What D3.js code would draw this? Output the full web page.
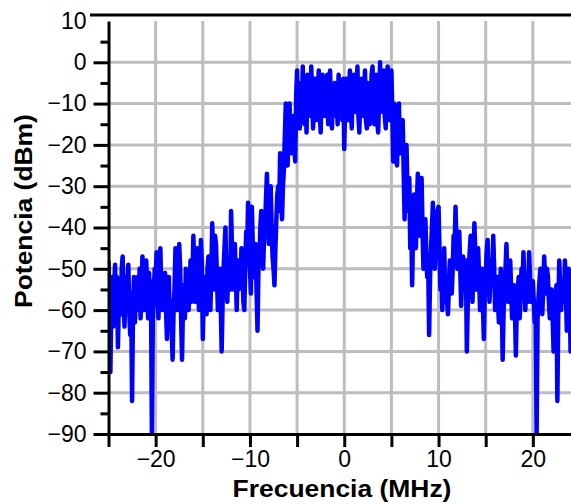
<!DOCTYPE html>
<html>
<head>
<meta charset="utf-8">
<script src="https://cdn.jsdelivr.net/npm/d3@7"></script>
<style>
  body { margin: 0; background: #fff; }
  svg { display: block; font-family: Arial, "Liberation Sans", sans-serif; }
</style>
</head>
<body>
<div id="grafico"></div>
<script>
// datos: espectro medido, una muestra cada 0.1 MHz desde -25 MHz
var f_inicio = -25, f_paso = 0.1
var potencia = [
  -48, -60, -75, -58, -52, -64, -55, -49, -62, -52,   // -25
  -69, -58, -54, -61, -50, -47, -58, -64, -52, -60,   // -24
  -54, -49, -60, -66, -56, -82, -60, -52, -63, -57,   // -23
  -60, -52, -58, -50, -62, -55, -47, -53, -60, -56,   // -22
  -48, -55, -62, -51, -58, -53, -90, -62, -56, -50,   // -21
  -52, -46, -57, -62, -50, -45, -55, -60, -53, -58,   // -20
  -51, -60, -67, -56, -52, -62, -58, -65, -72, -60,   // -19
  -55, -45, -52, -60, -57, -44, -50, -62, -72, -58,   // -18
  -54, -62, -50, -57, -53, -60, -55, -48, -58, -52,   // -17
  -42, -50, -58, -47, -45, -55, -60, -52, -43, -49,   // -16
  -67, -56, -52, -58, -61, -50, -47, -55, -60, -52,   // -15
  -39, -48, -55, -42, -44, -52, -60, -55, -50, -58,   // -14
  -70, -58, -50, -45, -40, -52, -58, -50, -47, -55,   // -13
  -36, -45, -55, -50, -44, -52, -60, -48, -55, -50,   // -12
  -53, -45, -48, -58, -60, -50, -41, -46, -34, -42,   // -11
  -50, -56, -35, -44, -52, -47, -44, -55, -65, -50,   // -10
  -48, -40, -36, -45, -50, -42, -40, -33, -27, -38,   // -9
  -44, -35, -30, -40, -47, -50, -54, -45, -38, -32,   // -8
  -30, -36, -22, -28, -38, -30, -26, -18, -10, -20,   // -7
  -25, -15, -10, -18, -22, -14, -13, -20, -24, -8,    // -6
  -2, -14, -5, -16, -8, -14, -1, -10, -15, -6,        // -5
  -17, -3, -12, -8, -13, -1, -9, -16, -4, -11,        // -4
  -4, -14, -7, -2, -12, -17, -6, -3, -13, -9,         // -3
  -13, -5, -3, -15, -8, -2, -12, -16, -6, -11,        // -2
  -5, -13, -9, -15, -3, -10, -12, -6, -14, -4,        // -1
  -21, -10, -4, -13, -14, -7, -2, -12, -16, -5,       // 0
  -3, -11, -12, -6, -1, -13, -17, -8, -4, -12,        // 1
  -13, -7, -2, -14, -16, -5, -9, -15, -11, -3,        // 2
  -1, -12, -15, -6, -3, -14, -17, -9, 0, -10,         // 3
  -12, -4, -2, -13, -16, -8, -1, -11, -14, -5,        // 4
  -2, -12, -24, -10, -12, -18, -25, -13, -10, -20,    // 5
  -22, -15, -14, -26, -38, -24, -20, -30, -36, -28,   // 6
  -45, -38, -54, -40, -32, -38, -45, -35, -27, -36,   // 7
  -42, -34, -28, -40, -50, -44, -38, -46, -52, -48,   // 8
  -66, -52, -45, -40, -34, -42, -50, -45, -40, -36,   // 9
  -35, -45, -55, -50, -60, -52, -45, -55, -52, -58,   // 10
  -61, -54, -48, -52, -56, -50, -42, -46, -35, -44,   // 11
  -50, -45, -41, -50, -59, -52, -47, -53, -55, -48,   // 12
  -70, -58, -50, -46, -42, -52, -58, -48, -39, -46,   // 13
  -55, -50, -45, -52, -60, -55, -50, -58, -67, -56,   // 14
  -52, -46, -43, -50, -58, -52, -48, -54, -42, -50,   // 15
  -60, -54, -52, -58, -63, -55, -50, -57, -72, -60,   // 16
  -56, -50, -44, -52, -58, -54, -48, -55, -62, -57,   // 17
  -54, -60, -71, -58, -55, -52, -62, -57, -50, -55,   // 18
  -46, -53, -60, -55, -52, -58, -46, -52, -58, -54,   // 19
  -53, -58, -63, -60, -90, -62, -57, -53, -50, -56,   // 20
  -61, -55, -47, -52, -56, -50, -52, -58, -62, -55,   // 21
  -55, -62, -70, -58, -60, -54, -82, -60, -48, -54,   // 22
  -60, -56, -53, -58, -48, -55, -65, -58, -50, -55,   // 23
  -70, -62, -55, -58, -62, -55, -50, -57, -58, -62,   // 24
  -60                                                 // 25
]
var x_ticks = [-20, -10, 0, 10, 20]
var y_ticks = [10, 0, -10, -20, -30, -40, -50, -60, -70, -80, -90]

var ancho = 571, alto = 504
var gris = '#bdbdbd'

var svg = d3.select('#grafico')
    .append('svg')
    .attr('width', ancho)
    .attr('height', alto)

var x = d3.scaleLinear().domain([-25, 25]).range([108.5, 580])
var y = d3.scaleLinear().domain([-90, 10]).range([434, 21])

var datos = potencia.map((p, i) => ({ f: f_inicio + i * f_paso, p: p }))

// rejilla
svg.append('g')
    .selectAll('line')
    .data(d3.range(-20, 26, 5))
    .enter()
    .append('line')
    .attr('x1', d => x(d)).attr('x2', d => x(d))
    .attr('y1', y(10)).attr('y2', y(-90))
    .attr('stroke', gris).attr('stroke-width', 3)

svg.append('g')
    .selectAll('line')
    .data(d3.range(-80, 1, 10))
    .enter()
    .append('line')
    .attr('x1', x(-25)).attr('x2', ancho)
    .attr('y1', d => y(d)).attr('y2', d => y(d))
    .attr('stroke', gris).attr('stroke-width', 3)

// traza
svg.append('clipPath').attr('id', 'recorte')
    .append('rect')
    .attr('x', x(-25)).attr('y', y(10))
    .attr('width', ancho - x(-25)).attr('height', y(-90) - y(10))

svg.append('path')
    .datum(datos)
    .attr('clip-path', 'url(#recorte)')
    .attr('fill', 'none')
    .attr('stroke', '#0000ff')
    .attr('stroke-width', 4.5)
    .attr('stroke-linejoin', 'round')
    .attr('d', d3.line().x(d => x(d.f)).y(d => y(d.p)))

// linea superior
svg.append('line')
    .attr('x1', 90).attr('x2', ancho)
    .attr('y1', 15).attr('y2', 15)
    .attr('stroke', '#000').attr('stroke-width', 3)

// ejes
var eje_y_menor = svg.append('g')
    .attr('transform', `translate(${x(-25)},0)`)
    .call(d3.axisLeft(y).tickValues(d3.range(-85, 6, 10)).tickSize(8).tickFormat(''))

var eje_y = svg.append('g')
    .attr('transform', `translate(${x(-25)},0)`)
    .call(d3.axisLeft(y).tickValues(y_ticks).tickSize(15).tickSizeOuter(0).tickPadding(7))
eje_y.selectAll('.tick').filter(d => d == 10).select('line').remove()

var eje_x = svg.append('g')
    .attr('transform', `translate(0,${y(-90)})`)
    .call(d3.axisBottom(x).tickValues(x_ticks).tickSize(13).tickSizeOuter(0).tickPadding(4))

var eje_x_menor = svg.append('g')
    .attr('transform', `translate(0,${y(-90)})`)
    .call(d3.axisBottom(x).tickValues([-25, -15, -5, 5, 15, 25]).tickSize(13).tickFormat(''))

svg.selectAll('.domain').attr('stroke', '#000').attr('stroke-width', 3)
svg.selectAll('.tick line').attr('stroke', '#000').attr('stroke-width', 3)
eje_y_menor.select('.domain').remove()
eje_x_menor.select('.domain').remove()
svg.selectAll('.tick text').attr('font-size', 23).attr('font-family', 'Arial, "Liberation Sans", sans-serif').attr('fill', '#000')

// titulos
svg.append('text')
    .attr('transform', 'translate(342,497) scale(1.15,1)')
    .attr('text-anchor', 'middle')
    .attr('font-size', 23)
    .attr('font-weight', 'bold')
    .text('Frecuencia (MHz)')

svg.append('text')
    .attr('transform', 'translate(32,211) rotate(-90) scale(1.15,1)')
    .attr('text-anchor', 'middle')
    .attr('font-size', 23)
    .attr('font-weight', 'bold')
    .text('Potencia (dBm)')
</script>
</body>
</html>
